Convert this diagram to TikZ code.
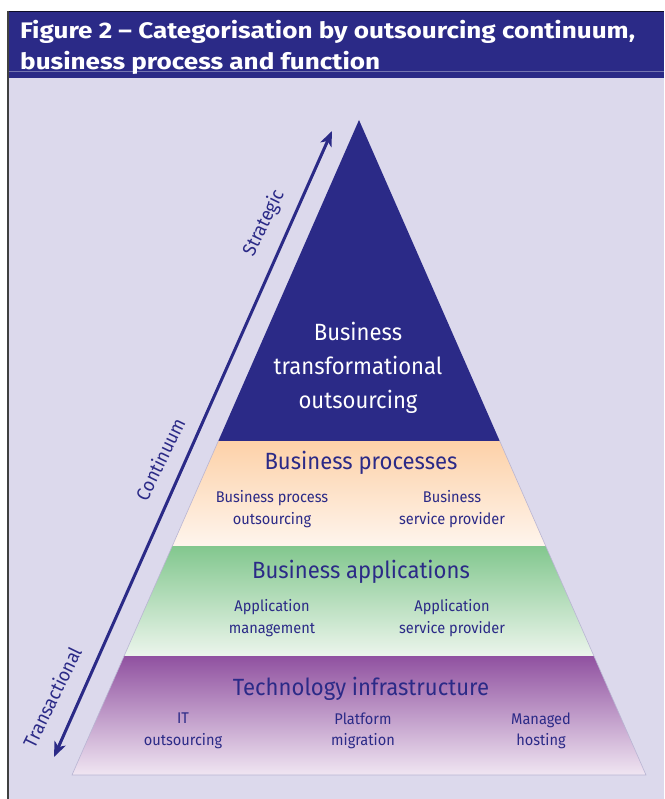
\documentclass[tikz,border=0pt]{standalone}
\usepackage{fontspec}
\setmainfont{Fira Sans}[FakeStretch=0.94]
\newfontfamily\titlefont{Fira Sans}[FakeStretch=1.16]
\usetikzlibrary{arrows.meta}
\definecolor{navy}{HTML}{2B2A87}
\definecolor{lav}{HTML}{DCD9EC}
\definecolor{peachtop}{HTML}{FDD1A8}
\definecolor{peachbot}{HTML}{FEF5ED}
\definecolor{greentop}{HTML}{82C78E}
\definecolor{greenbot}{HTML}{ECF5EC}
\definecolor{purptop}{HTML}{9051A0}
\definecolor{purpbot}{HTML}{F0E6F2}
\definecolor{edge}{HTML}{B9B5D3}
\tikzset{
  head/.style={font=\fontsize{23.5}{24}\selectfont, text=navy},
  sub/.style={font=\fontsize{15.5}{21.5}\selectfont, text=navy, align=center},
  side/.style={font=\fontsize{19}{19}\selectfont, text=navy, rotate=64},
  band/.style={draw=edge, line width=0.6pt},
  continuum/.style={navy, line width=3pt, >={Stealth[length=15pt,width=12pt,inset=4pt]}, <->},
}
\begin{document}
\begin{tikzpicture}[x=1pt,y=-1pt]
  \useasboundingbox (0,0) rectangle (664,799);
  % page and panel
  \fill[white] (0,0) rectangle (664,799);
  \fill[lav] (8,12) rectangle (664,799);
  \fill[navy] (8,12) rectangle (664,78);
  \draw[black!70!navy, line width=1pt] (8,11.5) -- (664,11.5);
  \draw[white!35!navy, line width=0.6pt] (8,71) -- (664,71);
  \draw[black!75, line width=2.5pt] (8,11) -- (8,799);
  \node[anchor=north west, align=left, text=white, inner sep=0pt,
        font=\fontsize{22.5}{31.5}\titlefont\bfseries] (title) at (20,20)
    {Figure 2 – Categorisation by outsourcing continuum,\\business process and function};

  % pyramid layers
  \fill[navy] (359,120) -- (499.7,441) -- (218.3,441) -- cycle;
  \shade[top color=peachtop, bottom color=peachbot]
    (218.3,441) -- (499.7,441) -- (545.7,546) -- (172.3,546) -- cycle;
  \shade[top color=greentop, bottom color=greenbot]
    (172.3,546) -- (545.7,546) -- (593.9,656) -- (124.1,656) -- cycle;
  \shade[top color=purptop, bottom color=purpbot]
    (124.1,656) -- (593.9,656) -- (646,775) -- (72,775) -- cycle;
  \draw[band] (218.3,441) -- (172.3,546) -- (124.1,656) -- (72,775) -- (646,775)
    -- (593.9,656) -- (545.7,546) -- (499.7,441);

  % layer texts
  \node[font=\fontsize{23.5}{34}\selectfont, text=white, align=center] (bto) at (358,368)
    {Business\\transformational\\outsourcing};
  \node[head] (bp) at (361,463) {Business processes};
  \node[sub] (bpo) at (272,509) {Business process\\outsourcing};
  \node[sub] (bsp) at (452,509) {Business\\service provider};
  \node[head] (ba) at (361,572) {Business applications};
  \node[sub] (am) at (272,618) {Application\\management};
  \node[sub] (asp) at (452,618) {Application\\service provider};
  \node[head] (ti) at (361,689) {Technology infrastructure};
  \node[sub] (ito) at (183,731) {IT\\outsourcing};
  \node[sub] (pm) at (363,731) {Platform\\migration};
  \node[sub] (mh) at (541,731) {Managed\\hosting};

  % continuum arrow
  \coordinate (low) at (54,757);
  \coordinate (high) at (332,131);
  \draw[continuum] (low) -- (high);
  \node[side] (strat) at (264,223) {Strategic};
  \node[side] (cont) at (160,459) {Continuum};
  \node[side] (trans) at (52,697) {Transactional};
\end{tikzpicture}
\end{document}
